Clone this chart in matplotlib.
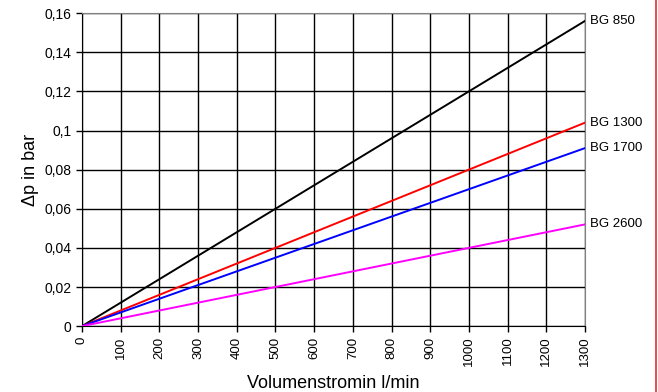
import matplotlib.pyplot as plt
from matplotlib.lines import Line2D

plt.rcParams['font.family'] = ['Liberation Sans', 'DejaVu Sans']

# flow in l/min and pressure drop in bar (linear curves)
flow = [0, 1300]
bg850 = [0, 0.156]
bg1300 = [0, 0.104]
bg1700 = [0, 0.091]
bg2600 = [0, 0.052]

series = [("BG 850", bg850, "black"),
          ("BG 1300", bg1300, "red"),
          ("BG 1700", bg1700, "blue"),
          ("BG 2600", bg2600, "magenta")]

xticks = list(range(0, 1301, 100))
yticks = [0, 0.02, 0.04, 0.06, 0.08, 0.1, 0.12, 0.14, 0.16]
ylabels = ["0", "0,02", "0,04", "0,06", "0,08", "0,1", "0,12", "0,14", "0,16"]

fig = plt.figure(figsize=(6.58, 3.92), dpi=100)
ax = fig.add_axes([0.1246, 0.168, 0.7644, 0.7985])

for name, vals, col in series:
    ax.plot(flow, vals, color=col, lw=1.4, zorder=3)
    ax.text(flow[-1] + 12, vals[-1], name, fontsize=9.5, va="center", ha="left")

ax.set_xlim(0, 1300)
ax.set_ylim(0, 0.16)
ax.set_xticks(xticks)
ax.set_xticklabels([str(x) for x in xticks], rotation=90, fontsize=9.5)
ax.tick_params(direction="out", length=4, width=1, colors="black")
ax.set_yticks(yticks)
ax.set_yticklabels(ylabels, fontsize=10)
ax.grid(True, color="black", lw=1)
for s in ax.spines.values():
    s.set_color("gray")
ax.spines["left"].set_color("black")
ax.spines["bottom"].set_color("black")

ax.set_xlabel("Volumenstromin l/min", fontsize=13, labelpad=6)
ax.set_ylabel("\u0394p in bar", fontsize=13, labelpad=4)

fig.add_artist(Line2D([656 / 658, 656 / 658], [0, 1], color="#e03030", lw=1.2))

fig.savefig("out.png", dpi=100)
